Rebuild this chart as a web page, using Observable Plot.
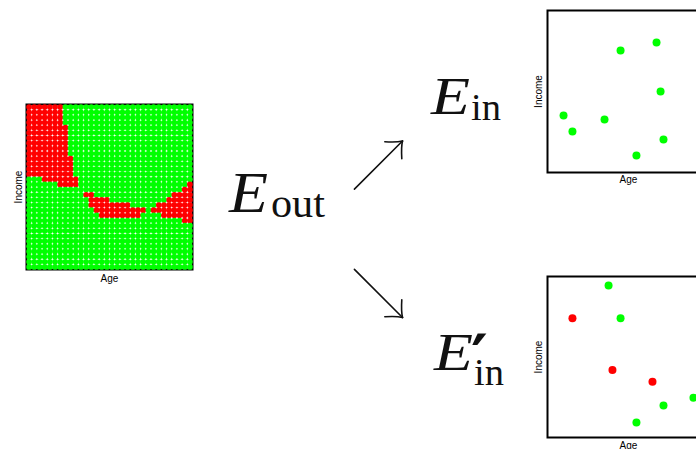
<!DOCTYPE html>
<html>
<head>
<meta charset="utf-8">
<script src="https://cdn.jsdelivr.net/npm/d3@7"></script>
<script src="https://cdn.jsdelivr.net/npm/@observablehq/plot@0.6"></script>
<style>
  html, body { margin: 0; padding: 0; background: #fff; }
  #stage { position: relative; width: 696px; height: 449px; overflow: hidden; background: #fff; }
  #stage svg.panel { position: absolute; background: transparent !important; max-width: none !important; }
  #overlay { position: absolute; left: 0; top: 0; pointer-events: none; }
</style>
</head>
<body>
<div id="stage"></div>
<script>
// ---- data ----
// Decision grid (32 age columns x 32 income rows, row 0 = top): red runs per row [fromCol, toCol]
const gridColumns = 32;
const gridRowCount = 32;
const redRuns = [
  [[0,6]], [[0,6]], [[0,6]], [[0,6]],
  [[0,7]], [[0,7]], [[0,7]], [[0,7]], [[0,7]], [[0,7]],
  [[0,8]], [[0,8]], [[0,8]], [[0,8]],
  [[3,9]],
  [[6,9],[31,31]],
  [[30,31]],
  [[11,12],[28,31]],
  [[12,15],[27,31]],
  [[12,19],[25,31]],
  [[13,22],[24,31]],
  [[14,21],[26,31]],
  [[30,31]],
  [], [], [], [], [], [], [], [], []
];

// Sample 1 (E_in)
const sample1Age    = [0.451, 0.673, 0.698, 0.099, 0.352, 0.154, 0.716, 0.549];
const sample1Income = [0.753, 0.802, 0.500, 0.352, 0.327, 0.253, 0.204, 0.105];
const sample1Class  = ["pos","pos","pos","pos","pos","pos","pos","pos"];

// Sample 2 (E'_in)
const sample2Age    = [0.377, 0.154, 0.451, 0.401, 0.648, 0.901, 0.716, 0.549];
const sample2Income = [0.944, 0.741, 0.741, 0.420, 0.346, 0.247, 0.198, 0.093];
const sample2Class  = ["pos","neg","pos","neg","neg","pos","pos","pos"];

const classNames  = ["pos", "neg"];
const classColors = ["#00ff00", "#ff0000"];
const axisLabels  = {x: "Age", y: "Income"};

// ---- build tables ----
const gridCells = [];
for (let r = 0; r < gridRowCount; r++) {
  for (let c = 0; c < gridColumns; c++) {
    const isRed = redRuns[r].some(([a, b]) => c >= a && c <= b);
    gridCells.push({col: c, row: r, cls: isRed ? "neg" : "pos"});
  }
}
const sample1 = sample1Age.map((a, i) => ({age: a, income: sample1Income[i], cls: sample1Class[i]}));
const sample2 = sample2Age.map((a, i) => ({age: a, income: sample2Income[i], cls: sample2Class[i]}));

const stage = document.getElementById("stage");
const labelFont = "'Liberation Sans', Arial, Helvetica, sans-serif";

function labels(dyBottom, dxLeft) {
  return [
    Plot.text([axisLabels.x], {frameAnchor: "bottom", textAnchor: "middle", lineAnchor: "middle", dy: dyBottom, fontSize: 10, fill: "#000"}),
    Plot.text([axisLabels.y], {frameAnchor: "left", textAnchor: "middle", lineAnchor: "middle", rotate: -90, dx: dxLeft, fontSize: 10, fill: "#000"})
  ];
}

function place(svg, left, top) {
  svg.classList.add("panel");
  svg.style.left = left + "px";
  svg.style.top = top + "px";
  stage.appendChild(svg);
}

const colorScale = {type: "ordinal", domain: classNames, range: classColors};

// Panel 1: E_out grid
const p1 = Plot.plot({
  width: 200, height: 195,
  marginLeft: 26, marginRight: 8, marginTop: 9, marginBottom: 21,
  style: {fontFamily: labelFont, background: "transparent"},
  x: {domain: [-0.5, gridColumns - 0.5], axis: null},
  y: {domain: [gridRowCount - 0.5, -0.5], axis: null},
  color: colorScale,
  marks: [
    Plot.frame({stroke: "#000", strokeWidth: 2}),
    Plot.dot(gridCells, {x: "col", y: "row", r: 2.85, fill: "cls", stroke: null}),
    ...labels(9, -8)
  ]
});
place(p1, 0, 95);

// Panel 2: E_in sample
const p2 = Plot.plot({
  width: 194, height: 190,
  marginLeft: 27, marginRight: 5, marginTop: 10, marginBottom: 18,
  style: {fontFamily: labelFont, background: "transparent"},
  x: {domain: [0, 1], axis: null},
  y: {domain: [0, 1], axis: null},
  color: colorScale,
  marks: [
    Plot.frame({stroke: "#000", strokeWidth: 2}),
    Plot.dot(sample1, {x: "age", y: "income", r: 4, fill: "cls", stroke: null}),
    ...labels(7, -9)
  ]
});
place(p2, 520, 0);

// Panel 3: E'_in sample
const p3 = Plot.plot({
  width: 194, height: 191,
  marginLeft: 27, marginRight: 5, marginTop: 10, marginBottom: 20,
  style: {fontFamily: labelFont, background: "transparent"},
  x: {domain: [0, 1], axis: null},
  y: {domain: [0, 1], axis: null},
  color: colorScale,
  marks: [
    Plot.frame({stroke: "#000", strokeWidth: 2}),
    Plot.dot(sample2, {x: "age", y: "income", r: 4, fill: "cls", stroke: null}),
    ...labels(8, -9)
  ]
});
place(p3, 520, 266);

// ---- math labels and arrows (decoration) ----
const ns = "http://www.w3.org/2000/svg";
const overlay = document.createElementNS(ns, "svg");
overlay.setAttribute("id", "overlay");
overlay.setAttribute("width", 696);
overlay.setAttribute("height", 449);
overlay.innerHTML = `
  <g style="font-family: 'Liberation Serif', 'Times New Roman', serif" fill="#111">
    <text x="229" y="211.7" font-size="57" font-style="italic" textLength="39" lengthAdjust="spacingAndGlyphs">E</text>
    <text x="271" y="216.7" font-size="41" textLength="54" lengthAdjust="spacingAndGlyphs">out</text>
    <text x="431" y="114.3" font-size="52" font-style="italic" textLength="39" lengthAdjust="spacingAndGlyphs">E</text>
    <text x="471" y="120" font-size="37" textLength="30" lengthAdjust="spacingAndGlyphs">in</text>
    <text x="434" y="370" font-size="52" font-style="italic" textLength="39" lengthAdjust="spacingAndGlyphs">E</text>
    <text x="474" y="385" font-size="37" textLength="30" lengthAdjust="spacingAndGlyphs">in</text>
  </g>
  <text x="471" y="380" font-size="64" font-weight="bold" style="font-family: 'DejaVu Sans', sans-serif" fill="#111">′</text>
  <g fill="none" stroke="#111" stroke-width="1.6" stroke-linecap="round">
    <g transform="translate(402.5,141) rotate(-45)">
      <path d="M-68,0 L0,0"/>
      <path d="M-13,-12 Q-5,-3 0,0"/>
      <path d="M-13,12 Q-5,3 0,0"/>
    </g>
    <g transform="translate(402.5,317.5) rotate(45)">
      <path d="M-68,0 L0,0"/>
      <path d="M-13,-12 Q-5,-3 0,0"/>
      <path d="M-13,12 Q-5,3 0,0"/>
    </g>
  </g>`;
stage.appendChild(overlay);
</script>
</body>
</html>
